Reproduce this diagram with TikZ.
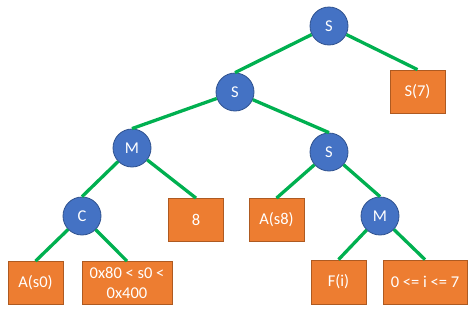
\documentclass[tikz,border=0pt]{standalone}
\usepackage{fontspec}
\setmainfont{Carlito}
\definecolor{nodeblue}{HTML}{4472C4}
\definecolor{nodeblueedge}{HTML}{2F528F}
\definecolor{leaforange}{HTML}{ED7D31}
\definecolor{leafedge}{HTML}{AE5A21}
\definecolor{edgegreen}{HTML}{00B050}
\tikzset{
  inner/.style={circle, fill=nodeblue, draw=nodeblueedge, line width=0.8pt, minimum size=38pt, inner sep=0pt, text=white, font=\fontsize{16.5}{20}\selectfont},
  leaf/.style={rectangle, fill=leaforange, draw=leafedge, line width=0.8pt, minimum width=55pt, minimum height=43pt, inner sep=1pt, text=white, align=center, font=\fontsize{16.5}{20.5}\selectfont},
  link/.style={draw=edgegreen, line width=3.3pt}
}
\begin{document}
\begin{tikzpicture}[x=1pt,y=-1pt]
\fill[white] (0,0) rectangle (474,311);
\useasboundingbox (0,0) rectangle (474,311);
% inner nodes
\node[inner] (r) at (329,26) {S};
\node[inner] (s2) at (235,92) {S};
\node[inner] (m1) at (132,148) {M};
\node[inner] (s3) at (329,152) {S};
\node[inner] (c) at (82,216) {C};
\node[inner] (m2) at (380,216) {M};
% leaves
\node[leaf] (s7) at (417.5,91.5) {S(7)};
\node[leaf] (eight) at (196,220) {8};
\node[leaf] (as8) at (276.5,220) {A(s8)};
\node[leaf] (as0) at (35.5,283) {A(s0)};
\node[leaf, minimum width=90pt] (range) at (127,283) {0x80 < s0 <\\0x400};
\node[leaf, minimum height=44pt] (fi) at (338.5,282) {F(i)};
\node[leaf, minimum width=84pt, minimum height=44pt] (irange) at (425,282) {0 <= i <= 7};
% edges
\draw[link] (r) -- (s2.north);
\draw[link] (r) -- (s7.north);
\draw[link] (s2) -- (m1.north);
\draw[link] (s2) -- (s3.north);
\draw[link] (m1) -- (c.north);
\draw[link] (m1) -- (eight.north);
\draw[link] (s3) -- (as8.north);
\draw[link] (s3) -- (m2.north);
\draw[link] (c) -- (as0.north);
\draw[link] (c) -- (range.north);
\draw[link] (m2) -- (fi.north);
\draw[link] (m2) -- (irange.north);
\end{tikzpicture}
\end{document}
